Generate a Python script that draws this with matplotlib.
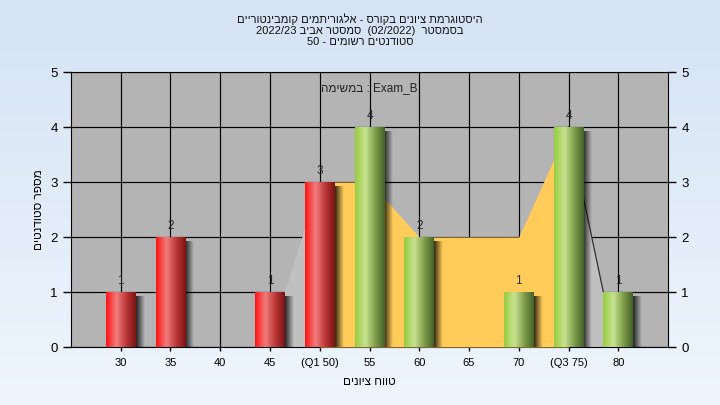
import re
import numpy as np
import matplotlib
matplotlib.use("Agg")
import matplotlib.pyplot as plt
from matplotlib.colors import to_rgb

plt.rcParams['font.family'] = ['Liberation Sans', 'DejaVu Sans']

# -----------------------------
# Data
# -----------------------------
tick_labels = ['30', '35', '40', '45', '(Q1 50)', '55', '60', '65', '70', '(Q3 75)', '80']
counts = [1, 2, 0, 1, 3, 4, 2, 0, 1, 4, 1]
is_low = [True, True, True, True, True, False, False, False, False, False, False]
iqr_idx = [4, 5, 6, 7, 8, 9]
iqr_vals = [3, 3, 2, 2, 2, 4]

title_lines = [
    "היסטוגרמת ציונים בקורס - אלגוריתמים קומבינטוריים",
    "בסמסטר  (02/2022)  סמסטר אביב 2022/23",
    "סטודנטים רשומים - 50",
]
inner_title = "Exam_B : במשימה"
xlabel = "טווח ציונים"
ylabel = "מספר סטודנטים"


def rtl(s):
    # crude visual ordering: keep latin/digit runs, reverse the rest
    parts = re.findall(r"[A-Za-z0-9_/.()]+|.", s)
    return "".join(parts[::-1])


def gradient(stops, n=64):
    pos = [p for p, _ in stops]
    cols = np.array([to_rgb(c) for _, c in stops])
    t = np.linspace(0, 1, n)
    return np.stack([np.interp(t, pos, cols[:, k]) for k in range(3)], axis=1)


red_grad = gradient([(0, '#ff1414'), (0.35, '#f07c7c'), (0.7, '#b83434'), (1, '#7c1414')])
green_grad = gradient([(0, '#98cc40'), (0.35, '#c8e290'), (0.7, '#7a9a48'), (1, '#46622a')])

fig = plt.figure(figsize=(7.2, 4.05), dpi=100)

# background gradient
bg = fig.add_axes([0, 0, 1, 1], zorder=-10)
bg.imshow(gradient([(0, '#d5e3f4'), (1, '#eef5fd')])[:, None, :], aspect='auto',
          extent=[0, 1, 0, 1])
bg.axis('off')

ax = fig.add_axes([0.0986, 0.1432, 0.8292, 0.679])
ax.set_facecolor('#b4b4b4')
x = np.arange(len(counts))
w = 0.6

# grid
for yy in range(0, 6):
    ax.axhline(yy, color='black', lw=0.85, zorder=1)
for xx in x:
    ax.axvline(xx, color='black', lw=0.85, zorder=1)

# light gray areas outside the IQR
lx = [x[3] + w / 2, x[4], x[4], x[3] + w / 2]
ly = [counts[3], counts[4], 0, 0]
ax.fill(lx, ly, color='#c0c0c0', lw=0, zorder=2)
rx = [x[9], x[10] - w / 2, x[10] - w / 2, x[9]]
ry = [counts[9], counts[10], 0, 0]
ax.fill(rx, ry, color='#c0c0c0', lw=0, zorder=2)
ax.plot([x[9], x[10] - w / 2], [counts[9], counts[10]], color='#303030', lw=0.9, zorder=2.5)

# IQR area
ax.fill_between(iqr_idx, iqr_vals, 0, color='#ffcc5a', lw=0, zorder=3)

# bars with shadow
shadow = np.zeros((1, 32, 4))
shadow[..., 3] = np.linspace(0.8, 0, 32)
for i, (c, low) in enumerate(zip(counts, is_low)):
    if c == 0:
        continue
    ax.imshow(shadow, aspect='auto', extent=[i + w / 2, i + w / 2 + 0.17, -0.02, c - 0.08],
              zorder=4, interpolation='bilinear')
    grad = red_grad if low else green_grad
    ax.imshow(grad[None, :, :], aspect='auto', extent=[i - w / 2, i + w / 2, 0, c],
              zorder=5, interpolation='bilinear')
    ax.text(i, c + 0.09, str(c), ha='center', va='bottom', fontsize=8.5,
            color='#2a2a2a', zorder=6)
ax.set_xlim(-1, len(counts))
ax.set_ylim(0, 5)

ax.set_xticks(x)
ax.set_xticklabels(tick_labels, fontsize=8)
ax.set_yticks(range(6))
ax.tick_params(axis='y', labelsize=9.5, length=6, width=1, right=True, labelright=True)
ax.tick_params(axis='x', length=3, width=1, pad=5)
for s in ax.spines.values():
    s.set_color('black')

ax.set_xlabel(rtl(xlabel), fontsize=8.5, labelpad=6)
ax.set_ylabel(rtl(ylabel), fontsize=8.5, labelpad=4)

ax.text(0.5, 0.965, rtl(inner_title), transform=ax.transAxes, ha='center', va='top',
        fontsize=8.5, color='#222222', zorder=7)

fig.text(0.5, 0.968, "\n".join(rtl(t) for t in title_lines), ha='center', va='top',
         fontsize=8, linespacing=1.15, color='#111111')

fig.savefig("out.png", dpi=100)
